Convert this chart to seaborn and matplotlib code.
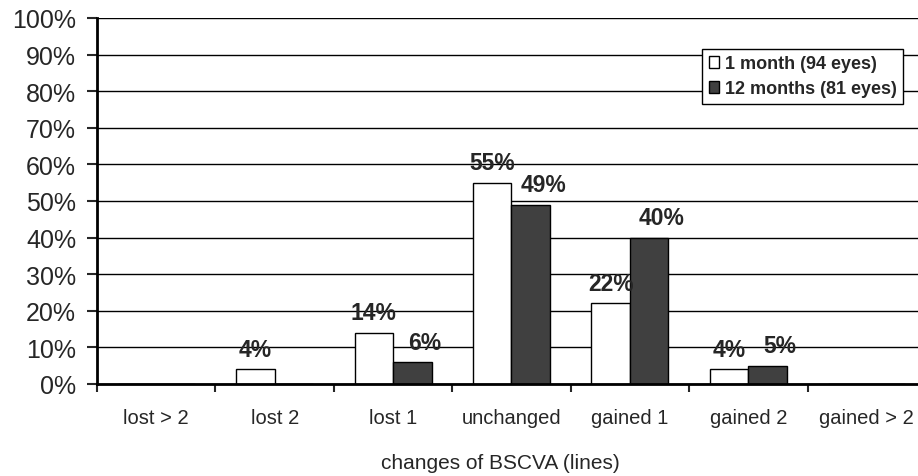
import numpy as np
import pandas as pd
import matplotlib
matplotlib.use("Agg")
import matplotlib.pyplot as plt
import seaborn as sns
from matplotlib.ticker import FuncFormatter

# Distribution of BSCVA line changes (percent of eyes)
categories = ["lost > 2", "lost 2", "lost 1", "unchanged", "gained 1", "gained 2", "gained > 2"]
series_names = ["1 month (94 eyes)", "12 months (81 eyes)"]
one_month = [0, 4, 14, 55, 22, 4, 0]
twelve_months = [0, 0, 6, 49, 40, 5, 0]
y_ticks = [0, 10, 20, 30, 40, 50, 60, 70, 80, 90, 100]

sns.set_style("white")
plt.rcParams["font.family"] = ["Liberation Sans", "DejaVu Sans"]

df = pd.DataFrame({
    "change": categories * 2,
    "period": [series_names[0]] * len(categories) + [series_names[1]] * len(categories),
    "pct": one_month + twelve_months,
})

fig = plt.figure(figsize=(9.18, 4.77), dpi=100)
ax = fig.add_axes([97 / 918, 1 - 385 / 477, 829 / 918, 366 / 477])

sns.barplot(
    data=df, x="change", y="pct", hue="period", order=categories,
    hue_order=series_names, palette=["white", "#404040"],
    width=0.65, gap=0, edgecolor="black", linewidth=1.0,
    errorbar=None, ax=ax,
)

ax.set_ylim(0, 100)
ax.set_xlim(-0.5, len(categories) - 0.5)
ax.set_yticks(y_ticks)
ax.yaxis.set_major_formatter(FuncFormatter(lambda v, _: f"{v:.0f}%"))
ax.tick_params(axis="y", labelsize=18, length=7, width=1.5, pad=8, direction="out", left=True)

# category labels between boundary ticks
ax.set_xticks(np.arange(-0.5, len(categories), 1.0))
ax.set_xticklabels([])
ax.set_xticks(np.arange(len(categories)), minor=True)
ax.set_xticklabels(categories, minor=True)
ax.tick_params(axis="x", which="major", length=6, width=1.5, direction="out", bottom=True)
ax.tick_params(axis="x", which="minor", length=0, labelsize=14.5, pad=17)

ax.set_xlabel("changes of BSCVA (lines)", fontsize=15, labelpad=19)
ax.xaxis.label.set_x((500 - 97) / 829)
ax.set_ylabel("")

ax.yaxis.grid(True, color="black", linewidth=1)
ax.set_axisbelow(True)
for side in ["top", "right"]:
    ax.spines[side].set_visible(False)
for side in ["left", "bottom"]:
    ax.spines[side].set_color("black")
    ax.spines[side].set_linewidth(2)

# value labels above non-zero bars
for container, dx in zip(ax.containers, [0, 9]):
    for bar in container:
        h = bar.get_height()
        if h > 0:
            ax.annotate(f"{h:.0f}%", (bar.get_x() + bar.get_width() / 2, h),
                        xytext=(dx, 6), textcoords="offset points",
                        ha="center", va="bottom", fontsize=16.5, fontweight="bold")

leg = ax.legend(
    loc="upper right", bbox_to_anchor=(903 / 918, 1 - 50 / 477),
    bbox_transform=fig.transFigure, borderaxespad=0,
    prop={"weight": "bold", "size": 13}, frameon=True, fancybox=False,
    handlelength=0.6, handleheight=0.6, handletextpad=0.3,
    borderpad=0.35, labelspacing=0.45, edgecolor="black", framealpha=1,
)
leg.get_frame().set_linewidth(1)

fig.savefig("out.png", dpi=100)
